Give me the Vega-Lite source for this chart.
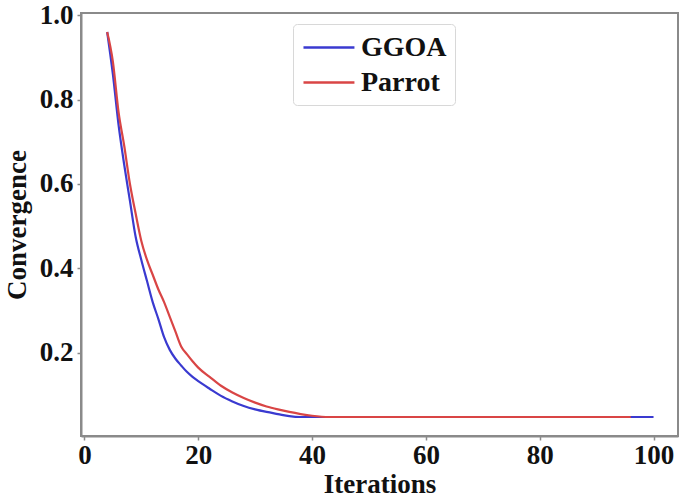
{
  "$schema": "https://vega.github.io/schema/vega-lite/v6.json",
  "width": 597,
  "height": 423,
  "autosize": {"type": "none"},
  "padding": {"left": 81, "top": 13, "right": 7, "bottom": 65},
  "background": "white",
  "config": {
    "view": {"stroke": "#8a8a8a", "strokeWidth": 2},
    "font": "Liberation Serif",
    "axis": {
      "domainColor": "#8a8a8a", "domainWidth": 2, "tickColor": "#8a8a8a", "tickWidth": 1.5, "tickSize": 4,
      "labelFont": "Liberation Serif", "labelFontWeight": "bold", "labelFontSize": 27, "labelColor": "#111",
      "titleFont": "Liberation Serif", "titleFontWeight": "bold", "titleFontSize": 27, "titleColor": "#111",
      "grid": false
    }
  },
  "data": {"values": [
    {"iter": 4, "conv": 0.960, "algo": "GGOA"},
    {"iter": 5, "conv": 0.86, "algo": "GGOA"},
    {"iter": 6, "conv": 0.74, "algo": "GGOA"},
    {"iter": 7, "conv": 0.645, "algo": "GGOA"},
    {"iter": 8, "conv": 0.56, "algo": "GGOA"},
    {"iter": 9, "conv": 0.475, "algo": "GGOA"},
    {"iter": 10, "conv": 0.42, "algo": "GGOA"},
    {"iter": 11, "conv": 0.37, "algo": "GGOA"},
    {"iter": 12, "conv": 0.32, "algo": "GGOA"},
    {"iter": 13, "conv": 0.28, "algo": "GGOA"},
    {"iter": 14, "conv": 0.237, "algo": "GGOA"},
    {"iter": 15, "conv": 0.207, "algo": "GGOA"},
    {"iter": 16, "conv": 0.186, "algo": "GGOA"},
    {"iter": 17, "conv": 0.17, "algo": "GGOA"},
    {"iter": 18, "conv": 0.155, "algo": "GGOA"},
    {"iter": 19, "conv": 0.143, "algo": "GGOA"},
    {"iter": 20, "conv": 0.133, "algo": "GGOA"},
    {"iter": 22, "conv": 0.115, "algo": "GGOA"},
    {"iter": 24, "conv": 0.098, "algo": "GGOA"},
    {"iter": 26, "conv": 0.085, "algo": "GGOA"},
    {"iter": 28, "conv": 0.074, "algo": "GGOA"},
    {"iter": 30, "conv": 0.066, "algo": "GGOA"},
    {"iter": 32, "conv": 0.06, "algo": "GGOA"},
    {"iter": 34, "conv": 0.055, "algo": "GGOA"},
    {"iter": 36, "conv": 0.05, "algo": "GGOA"},
    {"iter": 38, "conv": 0.048, "algo": "GGOA"},
    {"iter": 100, "conv": 0.048, "algo": "GGOA"},
    {"iter": 4, "conv": 0.960, "algo": "Parrot"},
    {"iter": 5, "conv": 0.89, "algo": "Parrot"},
    {"iter": 6, "conv": 0.77, "algo": "Parrot"},
    {"iter": 7, "conv": 0.69, "algo": "Parrot"},
    {"iter": 8, "conv": 0.60, "algo": "Parrot"},
    {"iter": 9, "conv": 0.53, "algo": "Parrot"},
    {"iter": 10, "conv": 0.465, "algo": "Parrot"},
    {"iter": 11, "conv": 0.42, "algo": "Parrot"},
    {"iter": 12, "conv": 0.385, "algo": "Parrot"},
    {"iter": 13, "conv": 0.35, "algo": "Parrot"},
    {"iter": 14, "conv": 0.32, "algo": "Parrot"},
    {"iter": 15, "conv": 0.285, "algo": "Parrot"},
    {"iter": 16, "conv": 0.25, "algo": "Parrot"},
    {"iter": 17, "conv": 0.215, "algo": "Parrot"},
    {"iter": 18, "conv": 0.197, "algo": "Parrot"},
    {"iter": 19, "conv": 0.18, "algo": "Parrot"},
    {"iter": 20, "conv": 0.165, "algo": "Parrot"},
    {"iter": 22, "conv": 0.143, "algo": "Parrot"},
    {"iter": 24, "conv": 0.122, "algo": "Parrot"},
    {"iter": 26, "conv": 0.106, "algo": "Parrot"},
    {"iter": 28, "conv": 0.093, "algo": "Parrot"},
    {"iter": 30, "conv": 0.082, "algo": "Parrot"},
    {"iter": 32, "conv": 0.073, "algo": "Parrot"},
    {"iter": 34, "conv": 0.066, "algo": "Parrot"},
    {"iter": 36, "conv": 0.06, "algo": "Parrot"},
    {"iter": 38, "conv": 0.055, "algo": "Parrot"},
    {"iter": 40, "conv": 0.051, "algo": "Parrot"},
    {"iter": 43, "conv": 0.048, "algo": "Parrot"},
    {"iter": 96, "conv": 0.048, "algo": "Parrot"}
  ]},
  "mark": {"type": "line", "strokeWidth": 2.2, "interpolate": "monotone", "clip": true},
  "encoding": {
    "x": {"field": "iter", "type": "quantitative", "title": "Iterations",
      "scale": {"domain": [-0.6, 104.3], "nice": false, "zero": false},
      "axis": {"values": [0, 20, 40, 60, 80, 100], "labelPadding": 2, "titlePadding": 3}},
    "y": {"field": "conv", "type": "quantitative", "title": "Convergence",
      "scale": {"domain": [0.003, 1.005], "nice": false, "zero": false},
      "axis": {"values": [0.2, 0.4, 0.6, 0.8, 1.0], "format": ".1f", "labelPadding": 4, "titlePadding": 8}},
    "color": {"field": "algo", "type": "nominal",
      "scale": {"domain": ["GGOA", "Parrot"], "range": ["#3a3ad0", "#d94545"]},
      "legend": {"title": null, "orient": "none", "legendX": 212, "legendY": 11,
        "symbolType": "M-0.93,0H2.71", "symbolSize": 784, "symbolStrokeWidth": 2.4,
        "labelFont": "Liberation Serif", "labelFontWeight": "bold", "labelFontSize": 28, "labelColor": "#111",
        "labelOffset": 29, "rowPadding": 5, "padding": 8,
        "strokeColor": "#d8d8d8", "cornerRadius": 4, "fillColor": "white"}},
    "order": {"field": "iter", "type": "quantitative"}
  }
}
